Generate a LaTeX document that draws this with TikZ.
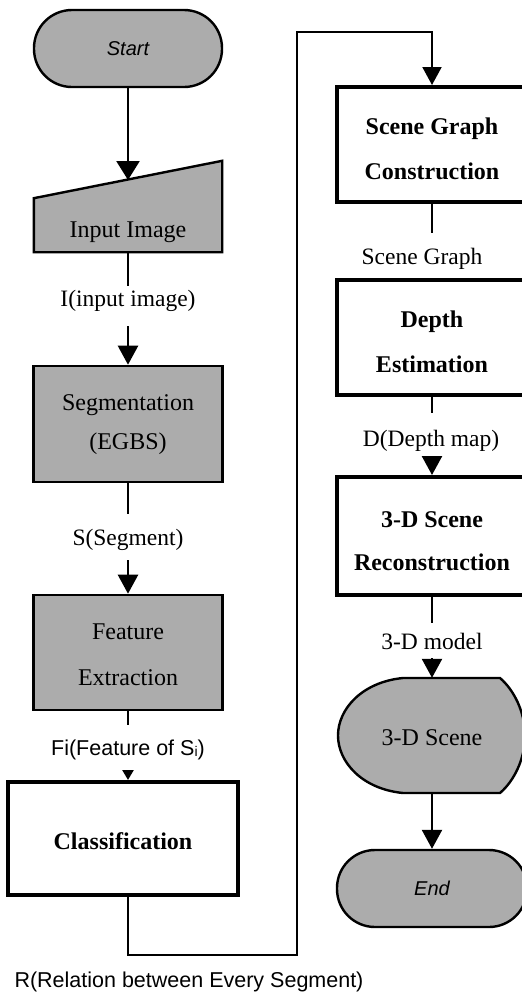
\documentclass[tikz,border=0pt]{standalone}
\usepackage{fontspec}
\setmainfont{Liberation Serif}
\newfontfamily\flowsans{Liberation Sans}
\usetikzlibrary{arrows.meta}
\definecolor{boxgray}{RGB}{172,172,172}
\begin{document}
\begin{tikzpicture}[x=1pt,y=-1pt,
  conn/.style={line width=2.4pt},
  arr/.style={conn,-{Triangle[width=20pt,length=19pt]}},
  arrwide/.style={conn,-{Triangle[width=23pt,length=19pt]}},
  arrsmall/.style={conn,-{Triangle[width=11pt,length=10pt]}},
  loopline/.style={line width=2pt,-{Triangle[width=19pt,length=18pt]}},
  terminal/.style={draw,line width=2.4pt,fill=boxgray,minimum width=188pt,
    minimum height=77pt,rounded corners=38pt,inner sep=0pt,
    font=\flowsans\itshape\fontsize{20}{24}\selectfont},
  graybox/.style={draw,line width=2.6pt,fill=boxgray,minimum width=189pt,
    minimum height=116pt,inner sep=0pt},
  whitebox/.style={draw,line width=4pt,fill=white,minimum width=190pt,
    minimum height=115pt,inner sep=0pt},
  plaintext/.style={inner sep=0pt,align=center,font=\fontsize{24}{39}\selectfont},
  boldtext/.style={inner sep=0pt,align=center,font=\bfseries\fontsize{24}{45}\selectfont},
  lbl/.style={inner sep=0pt,font=\fontsize{23.5}{28}\selectfont},
  lblsans/.style={inner sep=0pt,font=\flowsans\fontsize{21.5}{26}\selectfont},
  hidden/.style={inner sep=0pt,minimum width=#1}
]
\useasboundingbox (0,0) rectangle (522,994);

% ---------------- left column ----------------
\node[terminal] (start) at (128,48.5) {Start};

% manual input shape
\node[hidden=188pt,minimum height=91pt] (inp) at (128,206.5) {};
\draw[line width=2.4pt,fill=boxgray,line join=miter]
  (inp.south west) -- (inp.south east) -- (inp.north east)
  -- ([yshift=54pt]inp.south west) -- cycle;
\node[plaintext] (inptext) at (128,232) {Input Image};
\coordinate (inptop) at (128,180);

\node[graybox] (seg) at (128,424) {};
\node[plaintext] (segtext) at (128,425) {Segmentation\\(EGBS)};

\node[graybox,minimum height=115pt] (feat) at (128,652.5) {};
\node[plaintext,font=\fontsize{24}{46}\selectfont] (feattext) at (128,655) {Feature\\Extraction};

\node[whitebox,minimum width=230pt,minimum height=113pt] (class) at (123,838.5) {};
\node[boldtext] (classtext) at (123,841) {Classification};

% labels of the left column
\node[lbl] (lblI) at (128,301) {I(input image)};
\coordinate (iA) at (128,286);
\coordinate (iB) at (128,326);
\node[lbl] (lblS) at (128,540) {S(Segment)};
\coordinate (sA) at (128,514);
\coordinate (sB) at (128,560);
\node[lblsans] (lblF) at (128,750) {Fi(Feature of S\raisebox{-1pt}{\fontsize{14}{14}\selectfont i})};
\coordinate (fA) at (128,725);
\coordinate (fB) at (128,771);
\node[lblsans] (lblR) at (189,982) {R(Relation between Every Segment)};

% ---------------- right column ----------------
\node[whitebox] (sg) at (432,144.5) {};
\node[boldtext] (sgtext) at (432,149) {Scene Graph\\Construction};

\node[whitebox] (depth) at (432,337.5) {};
\node[boldtext] (depthtext) at (432,342) {Depth\\Estimation};

\node[whitebox,minimum height=118pt] (recon) at (432,536) {};
\node[boldtext,font=\bfseries\fontsize{24}{43}\selectfont] (recontext) at (432,541) {3-D Scene\\Reconstruction};

% display shape
\node[hidden=188pt,minimum height=115pt] (disp) at (432,735.5) {};
\draw[line width=2.4pt,fill=boxgray]
  (403,678) -- (500,678)
  .. controls (514,690) and (525,712) .. (525,735.5)
  .. controls (525,759) and (514,781) .. (500,793)
  -- (403,793)
  .. controls (362,789) and (338,762) .. (338,735.5)
  .. controls (338,709) and (362,682) .. (403,678) -- cycle;
\node[plaintext] (disptext) at (432,738) {3-D Scene};

\node[terminal,minimum width=190pt] (end) at (432,888.5) {End};

% labels of the right column
\node[lbl] (lblSG) at (422,259) {Scene Graph};
\coordinate (gA) at (432,233);
\node[lbl] (lblD) at (431,441) {D(Depth map)};
\coordinate (dA) at (432,413);
\coordinate (dB) at (432,459);
\node[lbl] (lblM) at (432,641) {3-D model};
\coordinate (mA) at (432,623);
\coordinate (mB) at (432,658);

% ---------------- connectors ----------------
\draw[arrwide] (start.south) -- (inptop);
\draw[conn] (inp.south) -- (iA);
\draw[arr] (iB) -- (seg.north);
\draw[conn] (seg.south) -- (sA);
\draw[arr] (sB) -- (feat.north);
\draw[conn] (feat.south) -- (fA);
\draw[arrsmall] (fB) -- (fB |- class.north);

\coordinate (turn) at (297,32);
\draw[loopline] (class.south -| fB) -- ++(0,58) -| (turn) -| (sg.north);

\draw[conn] (sg.south) -- (gA);
\draw[conn] (depth.south) -- (dA);
\draw[arr] (dB) -- (recon.north);
\draw[conn] (recon.south) -- (mA);
\draw[arr] (mB) -- (disp.north);
\draw[arr] (disp.south) -- (end.north);
\end{tikzpicture}
\end{document}
